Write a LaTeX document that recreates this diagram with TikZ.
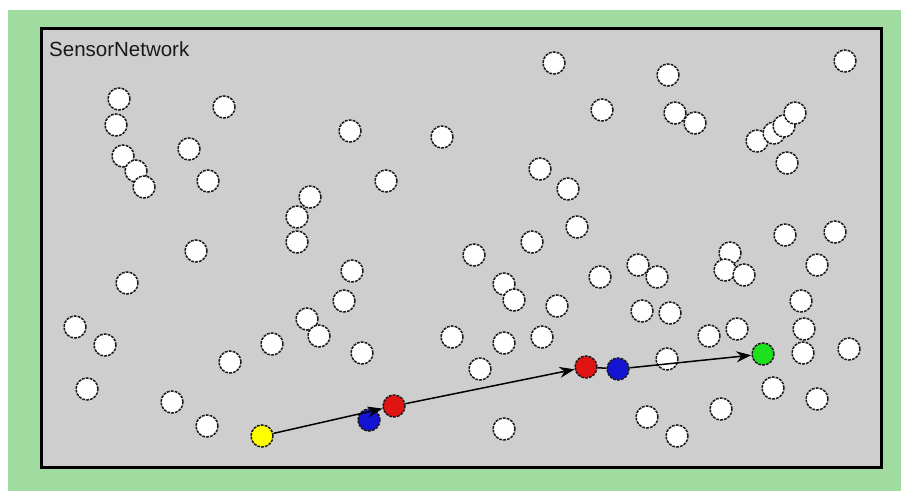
\documentclass[tikz,border=0pt]{standalone}
\usepackage{fontspec}
\setmainfont{Liberation Sans}
\usetikzlibrary{arrows.meta}
\definecolor{bggreen}{RGB}{160,220,160}
\definecolor{panelgray}{RGB}{206,206,206}
\definecolor{sred}{RGB}{225,20,20}
\definecolor{sblue}{RGB}{20,20,210}
\definecolor{syellow}{RGB}{255,255,0}
\definecolor{sgreen}{RGB}{30,225,30}
\tikzset{
  sensor/.style={circle, minimum size=22pt, inner sep=0pt, fill=white, draw=black!90,
    line width=1.5pt, dash pattern=on 2.8pt off 1.1pt},
  active/.style={sensor, fill=#1},
  hop/.style={draw=black, line width=1.5pt, -{Stealth[length=15pt, width=11pt]}},
  link/.style={draw=black, line width=1.5pt}
}
\begin{document}
\begin{tikzpicture}[x=1pt, y=-1pt]
\useasboundingbox (0,0) rectangle (901,491);
\fill[white] (0,0) rectangle (901,491);
\fill[bggreen] (8,10) rectangle (901,491);
\filldraw[fill=panelgray, draw=black, line width=3pt] (41.5,28.5) rectangle (881,467);
\node[anchor=base west, inner sep=0pt, font=\fontsize{20.5}{24}\selectfont, text=black!90] (title) at (49,56) {SensorNetwork};
\foreach \px/\py [count=\i] in {
 119/99,116/125,224/107,123/156,136/171,144/187,189/149,208/181,
 350/131,442/137,554/63,602/110,668/75,675/113,695/123,845/61,
 757/141,774/133,784/126,795/113,787/163,386/181,310/197,297/217,297/242,196/251,
 540/169,568/189,577/227,532/242,474/255,352/271,127/283,344/301,307/319,319/336,
 75/327,105/345,230/362,272/344,362/353,452/337,504/284,514/300,557/306,542/337,504/343,480/369,
 600/277,638/265,657/277,642/311,670/313,709/336,737/329,785/235,835/232,730/253,725/270,744/275,
 817/265,801/301,804/329,803/353,849/349,773/388,817/399,721/409,647/417,677/436,667/359,
 87/389,172/402,207/426,504/429}
  \node[sensor] (n\i) at (\px,\py) {};
\node[active=syellow] (src) at (262,436) {};
\node[active=sblue] (b1) at (369,420) {};
\node[active=sred] (r1) at (394,406) {};
\node[active=sred] (r2) at (586,367) {};
\node[active=sblue] (b2) at (618,369) {};
\node[active=sgreen] (dst) at (763,354) {};
\draw[hop] (src) -- (r1);
\draw[hop] (r1) -- (r2);
\draw[link] (r2) -- (b2);
\draw[hop] (b2) -- (dst);
\end{tikzpicture}
\end{document}
